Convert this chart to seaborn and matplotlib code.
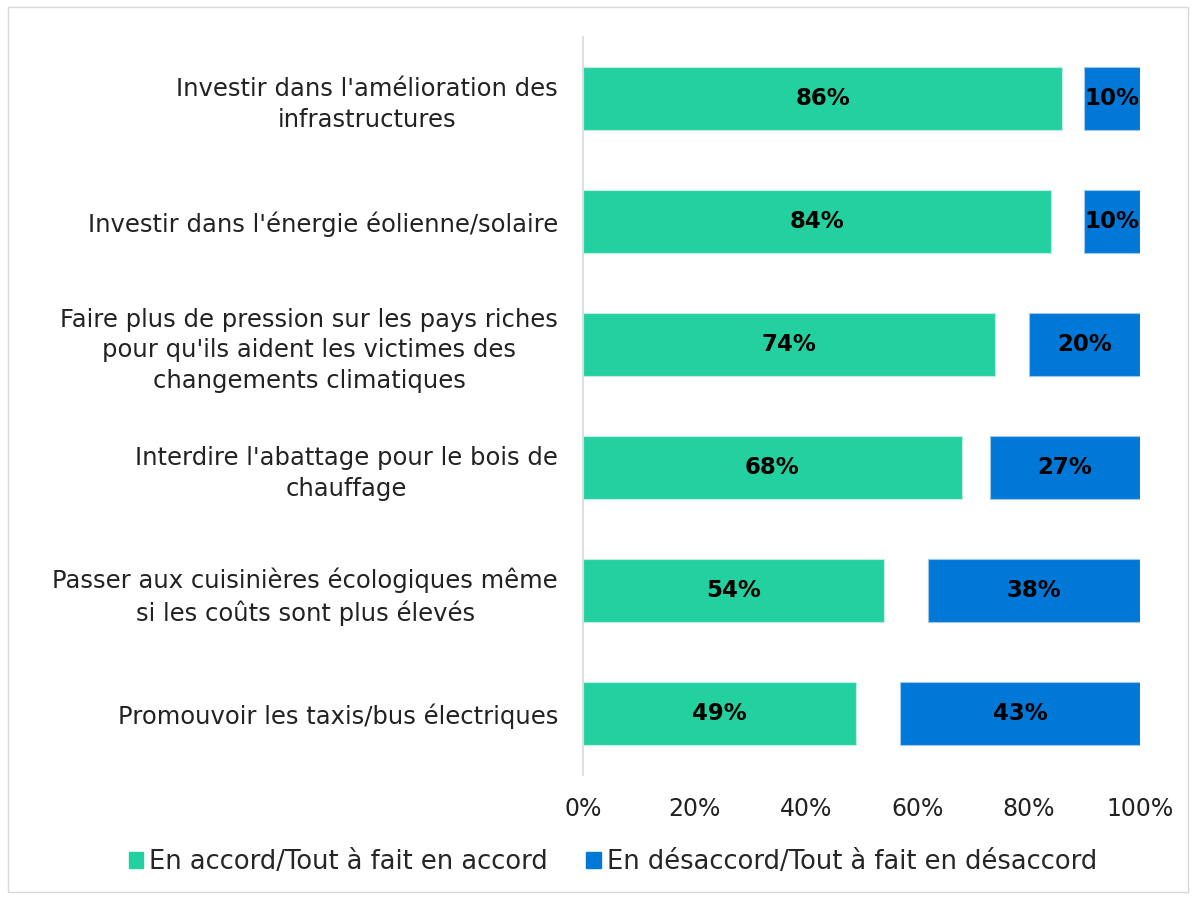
import matplotlib
matplotlib.use("Agg")
import matplotlib.pyplot as plt
import seaborn as sns
import pandas as pd
from matplotlib.patches import Rectangle

# Données
categories = [
    "Investir dans l'amélioration des\ninfrastructures",
    "Investir dans l'énergie éolienne/solaire",
    "Faire plus de pression sur les pays riches\npour qu'ils aident les victimes des\nchangements climatiques",
    "Interdire l'abattage pour le bois de\nchauffage",
    "Passer aux cuisinières écologiques même\nsi les coûts sont plus élevés",
    "Promouvoir les taxis/bus électriques",
]
accord = [86, 84, 74, 68, 54, 49]
desaccord = [10, 10, 20, 27, 38, 43]
ticks = [0, 20, 40, 60, 80, 100]
series_names = ["En accord/Tout à fait en accord", "En désaccord/Tout à fait en désaccord"]

vert = "#23D1A0"
bleu = "#0078D7"

sns.set_theme(style="white")
plt.rcParams['font.family'] = ['DejaVu Sans']

df = pd.DataFrame({"cat": categories, "accord": accord, "desaccord": desaccord})

fig = plt.figure(figsize=(11.97, 8.97), dpi=100)
ax = fig.add_axes([583 / 1197, 1 - 775 / 897, (1140 - 583) / 1197, (775 - 37) / 897])

sns.barplot(data=df, x="accord", y="cat", color=vert, width=0.52, ax=ax,
            edgecolor="#BFEFE2", linewidth=0.8, saturation=1)
ypos = range(len(categories))
gauche = [100 - d for d in desaccord]
ax.barh(list(ypos), desaccord, left=gauche, height=0.52, color=bleu,
        edgecolor="#9CC8EE", linewidth=0.8)

for i in ypos:
    ax.text(accord[i] / 2, i, f"{accord[i]}%", ha="center", va="center",
            fontsize=16.5, fontweight="bold", color="black")
    ax.text(gauche[i] + desaccord[i] / 2, i, f"{desaccord[i]}%", ha="center", va="center",
            fontsize=16.5, fontweight="bold", color="black")

ax.set_xlim(0, 100)
ax.set_ylim(len(categories) - 0.5, -0.5)
ax.set_xticks(ticks)
ax.set_xticklabels([f"{t}%" for t in ticks], fontsize=17, color="#222222")
ax.tick_params(axis="x", pad=16, length=0)
ax.tick_params(axis="y", pad=18, length=0)
for lbl in ax.get_yticklabels():
    lbl.set_fontsize(17.5)
    lbl.set_color("#222222")
    lbl.set_multialignment("center")
    lbl.set_linespacing(1.35)
ax.set_xlabel("")
ax.set_ylabel("")
for s in ["top", "right", "bottom"]:
    ax.spines[s].set_visible(False)
ax.spines["left"].set_color("#D9D9D9")
ax.spines["left"].set_linewidth(1.2)

handles = [Rectangle((0, 0), 1, 1, color=vert), Rectangle((0, 0), 1, 1, color=bleu)]
fig.legend(handles, series_names, loc="center", bbox_to_anchor=(0.512, 1 - 862 / 897),
           ncol=2, frameon=False, fontsize=18.5, handlelength=0.55, handleheight=0.55,
           handletextpad=0.25, columnspacing=1.5)

# cadre
fig.patches.append(Rectangle((8 / 1197, 1 - 892 / 897), 1180 / 1197, 885 / 897,
                             transform=fig.transFigure, fill=False,
                             edgecolor="#D9D9D9", linewidth=1))

fig.savefig("out.png", dpi=100)
